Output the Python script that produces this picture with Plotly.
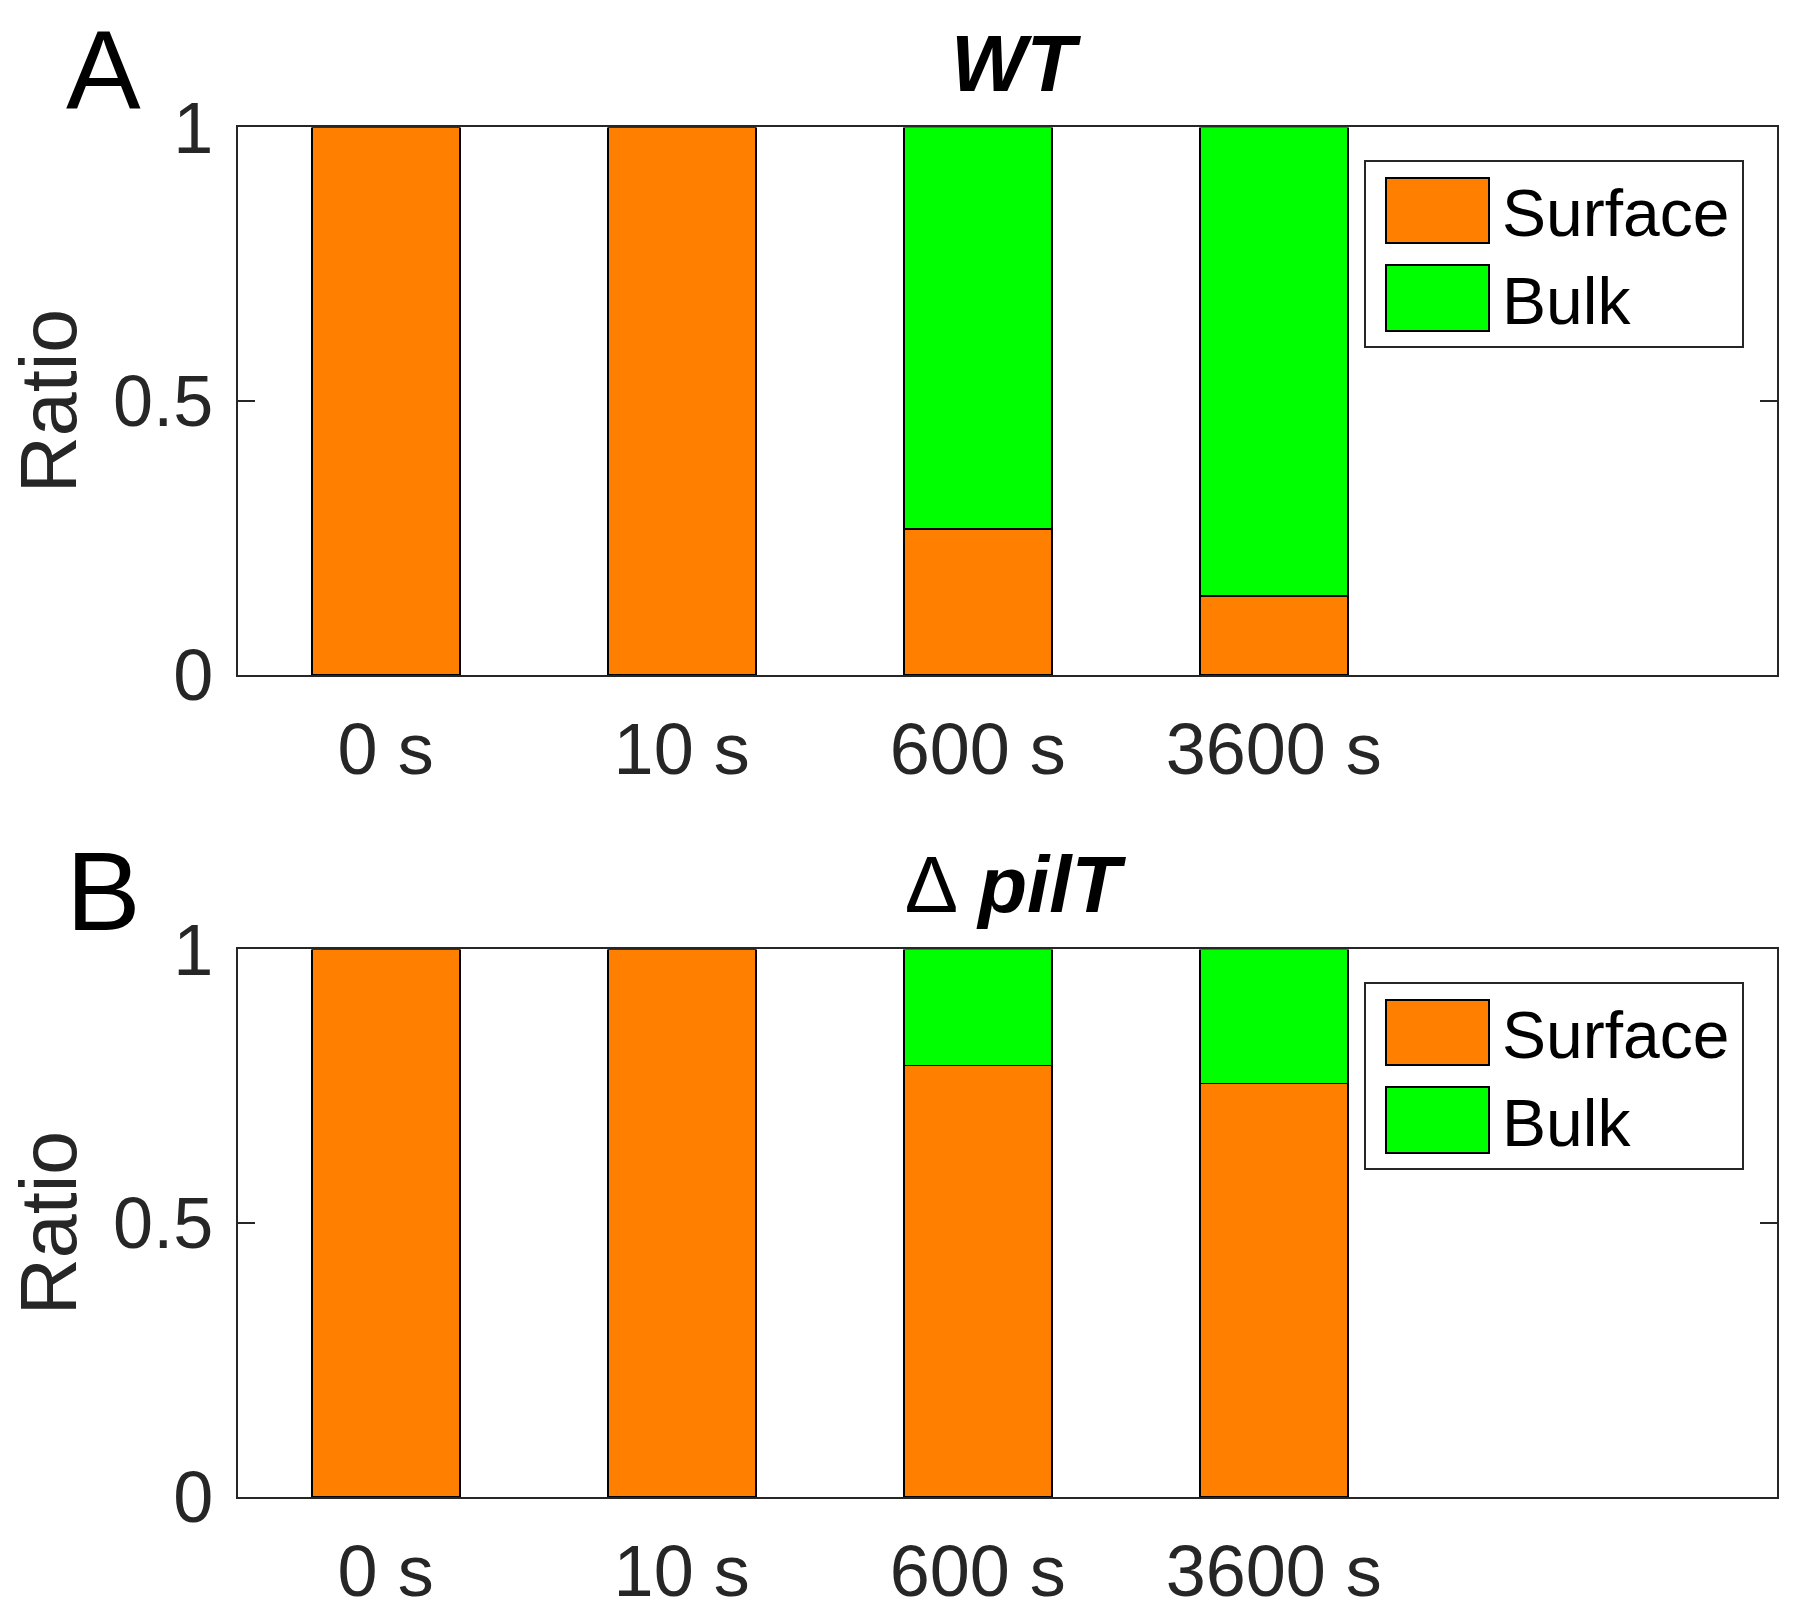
import plotly.graph_objects as go

categories = ["0 s", "10 s", "600 s", "3600 s"]
wt_surface = [1.0, 1.0, 0.266, 0.145]
wt_bulk = [0.0, 0.0, 0.734, 0.855]
pilt_surface = [1.0, 1.0, 0.788, 0.755]
pilt_bulk = [0.0, 0.0, 0.212, 0.245]
series_names = ["Surface", "Bulk"]
ytick_vals = [0, 0.5, 1]
ytick_text = ["0", "0.5", "1"]

ORANGE = "#FF8000"
GREEN = "#00FF00"
AXC = "#262626"
FONT = "Liberation Sans, Arial, Helvetica, sans-serif"

W, H = 1800, 1619
fig = go.Figure()

panels = [
    (wt_surface, wt_bulk, "x", "y"),
    (pilt_surface, pilt_bulk, "x2", "y2"),
]
for surf, bulk, xa, ya in panels:
    fig.add_trace(go.Bar(x=categories, y=surf, name=series_names[0], xaxis=xa, yaxis=ya,
                         width=0.5, marker=dict(color=ORANGE, line=dict(color="black", width=1.8)),
                         showlegend=False))
    fig.add_trace(go.Bar(x=categories, y=bulk, name=series_names[1], xaxis=xa, yaxis=ya,
                         width=0.5, marker=dict(color=GREEN, line=dict(color="black", width=1.8)),
                         showlegend=False))

# axes placement (pixel -> paper)
x_left, x_right = 237.6, 1777.0
panel_px = [(127.4, 675.0), (949.4, 1497.0)]


def py(p):
    return 1 - p / H


xdom = [x_left / W, x_right / W]
xaxis_common = dict(domain=xdom, range=[-0.5, 4.7], showline=True, linecolor=AXC, linewidth=2,
                    mirror=True, ticks="", showgrid=False, zeroline=False, automargin=False,
                    tickfont=dict(family=FONT, size=72, color=AXC), ticklabelstandoff=11)
yaxis_common = dict(range=[0, 1], tickvals=ytick_vals, ticktext=ytick_text, showline=True,
                    linecolor=AXC, linewidth=2, mirror="ticks", ticks="inside", ticklen=17,
                    tickwidth=2, tickcolor=AXC, showgrid=False, zeroline=False, automargin=False,
                    tickfont=dict(family=FONT, size=72, color=AXC), ticklabelstandoff=8)

fig.update_layout(
    xaxis=dict(xaxis_common, anchor="y"),
    yaxis=dict(yaxis_common, domain=[py(panel_px[0][1]), py(panel_px[0][0])], anchor="x"),
    xaxis2=dict(xaxis_common, anchor="y2"),
    yaxis2=dict(yaxis_common, domain=[py(panel_px[1][1]), py(panel_px[1][0])], anchor="x2"),
)

fig.update_layout(
    width=W, height=H, autosize=False, barmode="stack", plot_bgcolor="white", paper_bgcolor="white",
    margin=dict(l=0, r=0, t=0, b=0, pad=0, autoexpand=False), showlegend=False,
    font=dict(family=FONT, color=AXC),
)

annotations = []
shapes = []
titles = ["<b><i>WT</i></b>", "∆ <b><i>pilT</i></b>"]
letters = ["A", "B"]
letter_y = [70, 891]
title_y = [63, 884]
for i, (top, bot) in enumerate(panel_px):
    annotations.append(dict(text=titles[i], x=1016 / W, y=py(title_y[i]), xref="paper", yref="paper",
                            showarrow=False, font=dict(family=FONT, size=80, color="black"),
                            xanchor="center", yanchor="middle"))
    annotations.append(dict(text=letters[i], x=103 / W, y=py(letter_y[i]), xref="paper", yref="paper",
                            showarrow=False, font=dict(family=FONT, size=112, color="black"),
                            xanchor="center", yanchor="middle"))
    annotations.append(dict(text="Ratio", x=48 / W, y=py((top + bot) / 2), xref="paper", yref="paper",
                            showarrow=False, textangle=-90,
                            font=dict(family=FONT, size=79, color=AXC),
                            xanchor="center", yanchor="middle"))
    # legend box
    off = top - panel_px[0][0]
    shapes.append(dict(type="rect", xref="paper", yref="paper", x0=1365 / W, x1=1743 / W,
                       y0=py(347 + off), y1=py(161 + off), line=dict(color=AXC, width=2),
                       fillcolor="white", layer="above"))
    for j, (col, y0p, y1p, yc) in enumerate([(ORANGE, 178, 243, 213), (GREEN, 265, 331, 301)]):
        shapes.append(dict(type="rect", xref="paper", yref="paper", x0=1386 / W, x1=1489 / W,
                           y0=py(y1p + off), y1=py(y0p + off), line=dict(color="black", width=2),
                           fillcolor=col, layer="above"))
        annotations.append(dict(text=series_names[j], x=1500 / W, y=py(yc + off), xref="paper",
                                yref="paper", showarrow=False, xanchor="left", yanchor="middle",
                                font=dict(family=FONT, size=66, color="black")))

fig.update_layout(annotations=annotations, shapes=shapes)
fig.write_html("out.html", config={"displayModeBar": False},
               post_script="document.body.style.margin='0';document.body.style.overflow='hidden';")
